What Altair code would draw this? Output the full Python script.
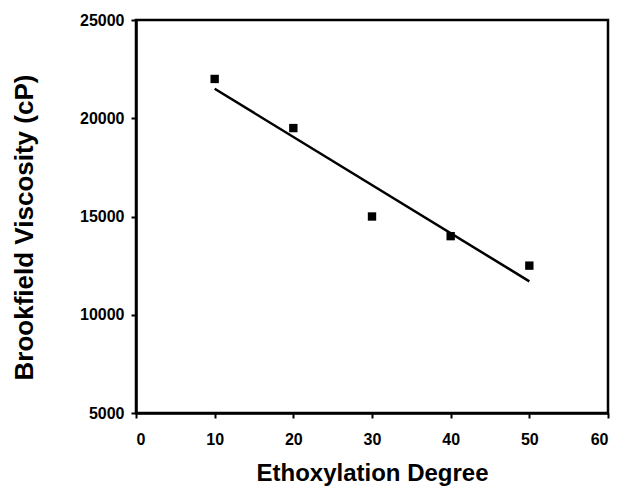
import altair as alt
import pandas as pd

degree = [10, 20, 30, 40, 50]
viscosity = [22000, 19500, 15000, 14000, 12500]

df = pd.DataFrame({"degree": degree, "viscosity": viscosity})

FONT = "Liberation Sans"

x = alt.X("degree:Q", title="Ethoxylation Degree",
          scale=alt.Scale(domain=[0, 60], nice=False),
          axis=alt.Axis(values=[0, 10, 20, 30, 40, 50, 60], grid=False, format="d",
                        tickSize=5, labelPadding=13, labelFontSize=16,
                        titleFontSize=24, titleX=236, titleY=67,
                        titleBaseline="alphabetic", titleAlign="center"))
y = alt.Y("viscosity:Q", title="Brookfield Viscosity (cP)",
          scale=alt.Scale(domain=[5000, 25000], nice=False),
          axis=alt.Axis(values=[5000, 10000, 15000, 20000, 25000], grid=False, format="d",
                        tickSize=5, labelPadding=7, labelFontSize=16,
                        titleFontSize=26, titleX=-112, titleY=207, titleAngle=-90,
                        titleBaseline="middle", titleAlign="center"))

points = alt.Chart(df).mark_square(size=70, color="black", opacity=1).encode(x=x, y=y)
line = alt.Chart(df).transform_regression("degree", "viscosity").mark_line(
    color="black", strokeWidth=2.5).encode(x=x, y=y)

chart = (line + points).properties(
    width=472, height=393,
    autosize=alt.AutoSizeParams(type="none"),
    padding={"left": 128, "top": 12, "right": 4, "bottom": 74},
).configure_view(stroke="black", strokeWidth=2.5).configure_axis(
    domainColor="black", domainWidth=2.5, tickColor="black", tickWidth=2,
    labelFont=FONT, labelFontWeight="bold", labelColor="black",
    titleFont=FONT, titleFontWeight="bold", titleColor="black",
)

chart.save("out.html", embed_options={"renderer": "svg", "actions": False})
